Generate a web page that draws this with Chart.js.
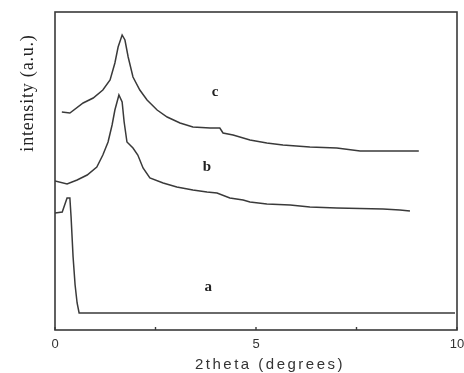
<!DOCTYPE html>
<html>
<head>
<meta charset="utf-8">
<script src="https://cdn.jsdelivr.net/npm/chart.js@4/dist/chart.umd.min.js"></script>
<style>
  html, body { margin: 0; padding: 0; background: #fff; }
  #wrap { width: 464px; height: 373px; }
</style>
</head>
<body>
<div id="wrap"><canvas id="xrd"></canvas></div>
<script>
// 2theta (degrees) and intensity (a.u.)
const aX = [0, 0.18, 0.30, 0.37, 0.40, 0.45, 0.50, 0.55, 0.60, 9.95];
const aY = [117, 118, 132, 132, 113, 73, 45, 27, 17, 17];

const bX = [0, 0.30, 0.55, 0.80, 1.04, 1.19, 1.32, 1.42, 1.49, 1.59, 1.67, 1.72, 1.79, 1.94, 2.06, 2.19, 2.36, 2.69, 3.03, 3.43, 3.78, 4.03, 4.35, 4.68, 4.85, 5.27, 5.85, 6.34, 7.01, 8.16, 8.58, 8.83];
const bY = [149, 146, 150, 155, 163, 175, 188, 205, 220, 235, 228, 208, 188, 182, 175, 162, 152, 147, 143, 140, 138, 137, 132, 130, 128, 126, 125, 123, 122, 121, 120, 119];

const cX = [0.17, 0.37, 0.70, 0.95, 1.19, 1.37, 1.49, 1.57, 1.67, 1.74, 1.82, 1.94, 2.11, 2.29, 2.54, 2.79, 3.11, 3.43, 3.86, 4.10, 4.18, 4.43, 4.85, 5.27, 5.67, 6.34, 7.01, 7.59, 8.16, 8.58, 9.05];
const cY = [218, 217, 227, 232, 240, 250, 267, 283, 295, 290, 273, 253, 240, 230, 220, 213, 207, 203, 202, 202, 197, 195, 190, 187, 185, 183, 182, 179, 179, 179, 179];

const curveNames = ['a', 'b', 'c'];
const nameX = [3.81, 3.78, 3.98];
const nameY = [43, 163, 238];

const xTicks = [0, 5, 10];

function pts(xs, ys) {
  return xs.map((x, i) => ({ x: x, y: ys[i] }));
}

const ink = '#3a3a3a';

const decor = {
  id: 'decor',
  afterDraw(chart) {
    const ctx = chart.ctx;
    const area = chart.chartArea;
    const sx = chart.scales.x, sy = chart.scales.y;
    ctx.save();
    // frame
    ctx.strokeStyle = ink;
    ctx.lineWidth = 1.6;
    ctx.strokeRect(area.left, area.top, area.right - area.left, area.bottom - area.top);
    // inward ticks
    ctx.lineWidth = 1.4;
    [0, 2.5, 5, 7.5, 10].forEach(v => {
      const px = sx.getPixelForValue(v);
      ctx.beginPath();
      ctx.moveTo(px, area.bottom);
      ctx.lineTo(px, area.bottom - 3);
      ctx.stroke();
    });
    // curve names
    ctx.fillStyle = '#222';
    ctx.font = 'bold 15px "Liberation Serif"';
    ctx.textAlign = 'center';
    ctx.textBaseline = 'middle';
    curveNames.forEach((n, i) => {
      ctx.fillText(n, sx.getPixelForValue(nameX[i]), sy.getPixelForValue(nameY[i]));
    });
    // x title
    ctx.font = '15px "Liberation Sans"';
    ctx.letterSpacing = '2.5px';
    ctx.fillStyle = '#333';
    ctx.fillText('2theta (degrees)', area.left + 215, 365);
    // y title
    ctx.letterSpacing = '0.8px';
    ctx.font = '18px "Liberation Serif"';
    ctx.fillStyle = '#222';
    ctx.translate(28, 93);
    ctx.rotate(-Math.PI / 2);
    ctx.fillText('intensity (a.u.)', 0, 0);
    ctx.restore();
  }
};

function series(label, xs, ys) {
  return {
    label: label,
    data: pts(xs, ys),
    borderColor: ink,
    borderWidth: 1.5,
    pointRadius: 0,
    tension: 0,
    fill: false
  };
}

new Chart(document.getElementById('xrd'), {
  type: 'line',
  data: {
    datasets: [
      series('a', aX, aY),
      series('b', bX, bY),
      series('c', cX, cY)
    ]
  },
  options: {
    responsive: true,
    maintainAspectRatio: false,
    animation: false,
    layout: { padding: { top: 12, right: 0, left: 0, bottom: 0 } },
    plugins: {
      legend: { display: false },
      tooltip: { enabled: false }
    },
    scales: {
      x: {
        type: 'linear',
        min: 0,
        max: 10,
        afterFit: s => { s.height = 43; s.paddingRight = 7; },
        afterBuildTicks: s => { s.ticks = xTicks.map(v => ({ value: v })); },
        grid: { display: false, drawTicks: false },
        border: { display: false },
        ticks: {
          padding: 7,
          color: '#333',
          font: { family: '"Liberation Sans"', size: 13 },
          maxRotation: 0
        }
      },
      y: {
        min: 0,
        max: 318,
        afterFit: s => { s.width = 55; },
        grid: { display: false, drawTicks: false },
        border: { display: false },
        ticks: { display: false }
      }
    }
  },
  plugins: [decor]
});
</script>
</body>
</html>
